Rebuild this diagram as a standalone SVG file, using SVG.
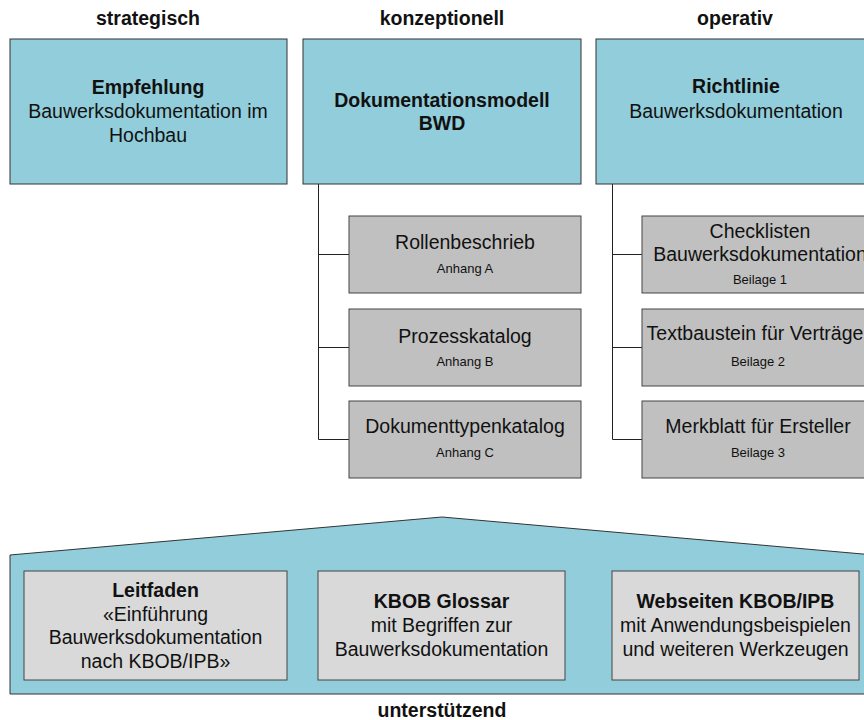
<svg xmlns="http://www.w3.org/2000/svg" width="864" height="720" viewBox="0 0 864 720">
<style>
text{font-family:"Liberation Sans",Arial,sans-serif;fill:#111;text-anchor:middle}
.lg{font-size:19.5px}
.b{font-weight:bold}
.sm{font-size:13px}
.blue{fill:#92CDDB;stroke:#333;stroke-width:1}
.gray{fill:#C0C0C0;stroke:#444;stroke-width:1}
.lgray{fill:#D9D9D9;stroke:#444;stroke-width:1}
.con{stroke:#222;stroke-width:1;fill:none}
</style>
<rect width="864" height="720" fill="#fff"/>
<g id="labels">
<text class="lg b" x="148" y="25">strategisch</text>
<text class="lg b" x="442" y="25">konzeptionell</text>
<text class="lg b" x="735" y="25">operativ</text>
<text class="lg b" x="442" y="717">unterstützend</text>
</g>
<g id="connectors">
<path class="con" d="M318.5 184V439.5M318.5 254.5H349M318.5 347.5H349M318.5 439.5H349"/>
<path class="con" d="M612.5 184V439.5M612.5 254.5H642M612.5 347.5H642M612.5 439.5H642"/>
</g>
<g id="empfehlung">
<rect class="blue" x="10" y="39" width="277" height="145"/>
<text class="lg b" x="148" y="94">Empfehlung</text>
<text class="lg" x="148" y="118">Bauwerksdokumentation im</text>
<text class="lg" x="148" y="142">Hochbau</text>
</g>
<g id="dokumentationsmodell">
<rect class="blue" x="303" y="39" width="278" height="145"/>
<text class="lg b" x="442" y="107">Dokumentationsmodell</text>
<text class="lg b" x="442" y="130">BWD</text>
</g>
<g id="richtlinie">
<rect class="blue" x="596" y="39" width="278" height="145"/>
<text class="lg b" x="736" y="93">Richtlinie</text>
<text class="lg" x="736" y="118">Bauwerksdokumentation</text>
</g>
<g id="rollenbeschrieb">
<rect class="gray" x="349" y="216" width="232" height="77"/>
<text class="lg" x="465" y="249">Rollenbeschrieb</text>
<text class="sm" x="465" y="273">Anhang A</text>
</g>
<g id="prozesskatalog">
<rect class="gray" x="349" y="309" width="232" height="77"/>
<text class="lg" x="465" y="343">Prozesskatalog</text>
<text class="sm" x="465" y="366">Anhang B</text>
</g>
<g id="dokumenttypenkatalog">
<rect class="gray" x="349" y="401" width="232" height="77"/>
<text class="lg" x="465" y="433">Dokumenttypenkatalog</text>
<text class="sm" x="465" y="457">Anhang C</text>
</g>
<g id="checklisten">
<rect class="gray" x="642" y="216" width="232" height="77"/>
<text class="lg" x="760" y="238">Checklisten</text>
<text class="lg" x="760" y="261">Bauwerksdokumentation</text>
<text class="sm" x="760" y="284">Beilage 1</text>
</g>
<g id="textbaustein">
<rect class="gray" x="642" y="309" width="232" height="77"/>
<text class="lg" x="755" y="340">Textbaustein für Verträge</text>
<text class="sm" x="758" y="366">Beilage 2</text>
</g>
<g id="merkblatt">
<rect class="gray" x="642" y="401" width="232" height="77"/>
<text class="lg" x="758" y="433">Merkblatt für Ersteller</text>
<text class="sm" x="758" y="457">Beilage 3</text>
</g>
<g id="unterstuetzend">
<polygon class="blue" points="10,555 442,517 874,555 874,694 10,694"/>
</g>
<g id="leitfaden">
<rect class="lgray" x="24" y="571" width="263" height="109"/>
<text class="lg b" x="155.5" y="597">Leitfaden</text>
<text class="lg" x="155.5" y="621">«Einführung</text>
<text class="lg" x="155.5" y="644">Bauwerksdokumentation</text>
<text class="lg" x="155.5" y="668">nach KBOB/IPB»</text>
</g>
<g id="glossar">
<rect class="lgray" x="318" y="571" width="247" height="109"/>
<text class="lg b" x="441.5" y="608">KBOB Glossar</text>
<text class="lg" x="441.5" y="632">mit Begriffen zur</text>
<text class="lg" x="441.5" y="656">Bauwerksdokumentation</text>
</g>
<g id="webseiten">
<rect class="lgray" x="612" y="571" width="247" height="109"/>
<text class="lg b" x="735.5" y="608">Webseiten KBOB/IPB</text>
<text class="lg" x="735.5" y="632">mit Anwendungsbeispielen</text>
<text class="lg" x="735.5" y="656">und weiteren Werkzeugen</text>
</g>
</svg>
